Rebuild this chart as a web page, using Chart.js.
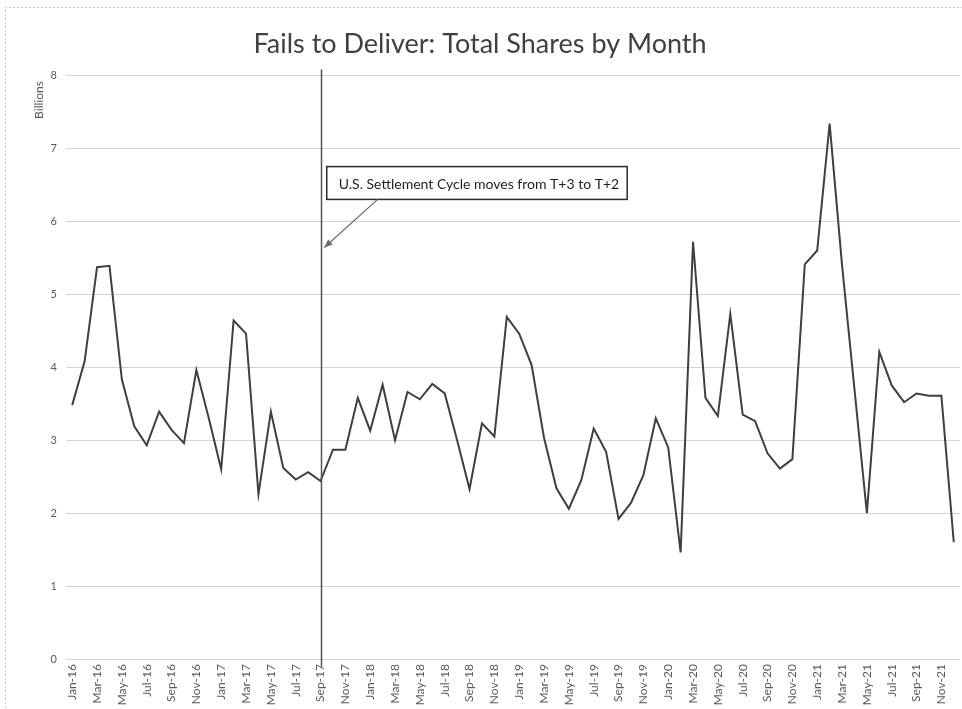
<!DOCTYPE html>
<html>
<head>
<meta charset="utf-8">
<title>Fails to Deliver: Total Shares by Month</title>
<script src="https://cdn.jsdelivr.net/npm/chart.js@4.4.1/dist/chart.umd.min.js"></script>
<style>
  html, body { margin: 0; padding: 0; background: #fff; }
  #wrap { position: relative; width: 962px; height: 709px; }
</style>
</head>
<body>
<div id="wrap"><canvas id="chart" width="962" height="709"></canvas></div>
<script>
const chartTitle = "Fails to Deliver: Total Shares by Month";
const unitLabel = "Billions";
const noteText = "U.S. Settlement Cycle moves from T+3 to T+2";
const eventMonth = "Sep-17";

// one label per month, Jan-16 .. Dec-21
const months = [
  "Jan-16","Feb-16","Mar-16","Apr-16","May-16","Jun-16","Jul-16","Aug-16","Sep-16","Oct-16","Nov-16","Dec-16",
  "Jan-17","Feb-17","Mar-17","Apr-17","May-17","Jun-17","Jul-17","Aug-17","Sep-17","Oct-17","Nov-17","Dec-17",
  "Jan-18","Feb-18","Mar-18","Apr-18","May-18","Jun-18","Jul-18","Aug-18","Sep-18","Oct-18","Nov-18","Dec-18",
  "Jan-19","Feb-19","Mar-19","Apr-19","May-19","Jun-19","Jul-19","Aug-19","Sep-19","Oct-19","Nov-19","Dec-19",
  "Jan-20","Feb-20","Mar-20","Apr-20","May-20","Jun-20","Jul-20","Aug-20","Sep-20","Oct-20","Nov-20","Dec-20",
  "Jan-21","Feb-21","Mar-21","Apr-21","May-21","Jun-21","Jul-21","Aug-21","Sep-21","Oct-21","Nov-21","Dec-21"
];

// total fails, billions of shares
const failsBillions = [
  3.48, 4.08, 5.37, 5.39, 3.83, 3.19, 2.93, 3.39, 3.14, 2.96, 3.96, 3.30,
  2.60, 4.64, 4.46, 2.26, 3.39, 2.62, 2.46, 2.56, 2.44, 2.87, 2.87, 3.58,
  3.13, 3.76, 3.00, 3.66, 3.56, 3.77, 3.64, 3.00, 2.33, 3.23, 3.05, 4.69,
  4.46, 4.03, 3.03, 2.34, 2.06, 2.45, 3.16, 2.84, 1.92, 2.14, 2.52, 3.30,
  2.90, 1.46, 5.72, 3.58, 3.33, 4.73, 3.35, 3.26, 2.82, 2.61, 2.74, 5.41,
  5.60, 7.34, 5.40, 3.70, 2.00, 4.21, 3.75, 3.52, 3.64, 3.61, 3.61, 1.60
];

// only every second month gets a tick label
const tickLabels = months.map((m, i) => (i % 2 === 0 ? m : ""));
const yTicks = [0, 1, 2, 3, 4, 5, 6, 7, 8];

const FONT = "Lato, 'Open Sans', sans-serif";
const grey = "#595959";

// dashed frame, unit label, event marker + callout
const extras = {
  id: "extras",
  beforeDraw(chart){
    const ctx = chart.ctx;
    ctx.save();
    ctx.strokeStyle = "#c8c8c8";
    ctx.lineWidth = 1;
    ctx.setLineDash([2, 2]);
    ctx.beginPath();
    ctx.moveTo(5.5, 708);
    ctx.lineTo(5.5, 7.5);
    ctx.lineTo(962, 7.5);
    ctx.stroke();
    ctx.restore();
  },
  afterDraw(chart){
    const { ctx, chartArea, scales: { x, y } } = chart;
    const idx = months.indexOf(eventMonth);
    const px = Math.round(x.getPixelForValue(idx)) + 0.5;

    ctx.save();
    // units
    ctx.fillStyle = grey;
    ctx.font = "12px " + FONT;
    ctx.translate(39, 100);
    ctx.rotate(-Math.PI / 2);
    ctx.textAlign = "center";
    ctx.textBaseline = "middle";
    ctx.fillText(unitLabel, 0, 0);
    ctx.restore();

    ctx.save();
    // vertical marker line
    ctx.strokeStyle = "#555";
    ctx.lineWidth = 1.5;
    ctx.beginPath();
    ctx.moveTo(px, chartArea.top - 6);
    ctx.lineTo(px, chartArea.bottom + 8);
    ctx.stroke();

    // callout box
    ctx.font = "14px " + FONT;
    const tw = ctx.measureText(noteText).width;
    const bx = x.getPixelForValue(idx + 0.5);
    const by = y.getPixelForValue(6.75);
    const bh = y.getPixelForValue(6.3) - by;
    const bw = tw + 20;
    ctx.fillStyle = "#fff";
    ctx.fillRect(bx, by, bw, bh);
    ctx.strokeStyle = "#2b2b2b";
    ctx.lineWidth = 1.5;
    ctx.strokeRect(bx, by, bw, bh);
    ctx.fillStyle = "#1f1f1f";
    ctx.textBaseline = "middle";
    ctx.fillText(noteText, bx + 12, by + bh / 2 + 1);

    // arrow from box to the marker
    const ax = x.getPixelForValue(idx + 4.6), ay = y.getPixelForValue(6.3);
    const hx = x.getPixelForValue(idx + 0.3), hy = y.getPixelForValue(5.64);
    ctx.strokeStyle = "#6a6a6a";
    ctx.fillStyle = "#6a6a6a";
    ctx.lineWidth = 1.2;
    ctx.beginPath();
    ctx.moveTo(ax, ay);
    ctx.lineTo(hx, hy);
    ctx.stroke();
    const ang = Math.atan2(hy - ay, hx - ax);
    ctx.beginPath();
    ctx.moveTo(hx, hy);
    ctx.lineTo(hx - 9 * Math.cos(ang - 0.4), hy - 9 * Math.sin(ang - 0.4));
    ctx.lineTo(hx - 9 * Math.cos(ang + 0.4), hy - 9 * Math.sin(ang + 0.4));
    ctx.closePath();
    ctx.fill();
    ctx.restore();
  }
};

const ctx = document.getElementById("chart").getContext("2d");
new Chart(ctx, {
  type: "line",
  data: {
    labels: months,
    datasets: [{
      data: failsBillions,
      borderColor: "#3f3f3f",
      borderWidth: 2,
      pointRadius: 0,
      tension: 0,
      fill: false
    }]
  },
  options: {
    responsive: false,
    animation: false,
    layout: { padding: { left: 0, right: 2, top: 0, bottom: 0 } },
    plugins: {
      legend: { display: false },
      tooltip: { enabled: false },
      title: {
        display: true,
        text: chartTitle,
        color: "#404040",
        font: { family: FONT, size: 27, weight: "normal" },
        padding: { top: 28, bottom: 15 }
      }
    },
    scales: {
      x: {
        offset: true,
        grid: { display: false, drawTicks: false },
        border: { display: false },
        ticks: {
          autoSkip: false,
          minRotation: 90,
          maxRotation: 90,
          padding: 5,
          color: grey,
          font: { family: FONT, size: 12 },
          callback: (v, i) => tickLabels[i]
        },
        afterFit: s => { s.height = 50; s.paddingLeft = 0; s.paddingRight = 0; }
      },
      y: {
        min: 0,
        max: 8,
        afterBuildTicks: s => { s.ticks = yTicks.map(v => ({ value: v })); },
        grid: { color: "#d3d3d3", drawTicks: false },
        border: { display: false },
        ticks: { padding: 9, color: grey, font: { family: FONT, size: 11 } },
        afterFit: s => { s.width = 66; }
      }
    }
  },
  plugins: [extras]
});
</script>
</body>
</html>
